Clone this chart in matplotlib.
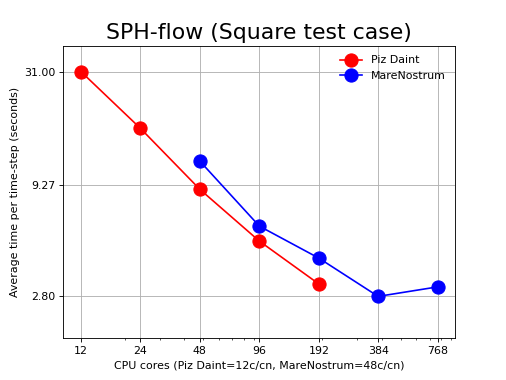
import matplotlib
matplotlib.use("Agg")
import matplotlib.pyplot as plt
from matplotlib.ticker import NullLocator

# data
cores_daint = [12, 24, 48, 96, 192]
time_daint = [31.0, 16.9, 8.8, 5.06, 3.2]
cores_mn = [48, 96, 192, 384, 768]
time_mn = [11.9, 5.94, 4.22, 2.80, 3.1]
xticks = [12, 24, 48, 96, 192, 384, 768]
yticks = [2.80, 9.27, 31.00]

fig, ax = plt.subplots(figsize=(506 / 79, 380 / 79), dpi=79)
ax.plot(cores_daint, time_daint, 'o-', color='red', markersize=12, linewidth=1.5, label='Piz Daint')
ax.plot(cores_mn, time_mn, 'o-', color='blue', markersize=12, linewidth=1.5, label='MareNostrum')

ax.set_xscale('log')
ax.set_yscale('log')
ax.set_xticks(xticks)
ax.set_xticklabels([str(c) for c in xticks])
ax.set_yticks(yticks)
ax.set_yticklabels(['%.2f' % v for v in yticks])
ax.yaxis.set_minor_locator(NullLocator())
ax.set_ylim(1.79, 41)
ax.grid(True, which='major')

ax.set_xlabel('CPU cores (Piz Daint=12c/cn, MareNostrum=48c/cn)')
ax.set_ylabel('Average time per time-step (seconds)')
ax.set_title('SPH-flow (Square test case)', fontsize=20)
ax.legend(loc='upper right', frameon=False)

fig.savefig('out.png', dpi=79)
